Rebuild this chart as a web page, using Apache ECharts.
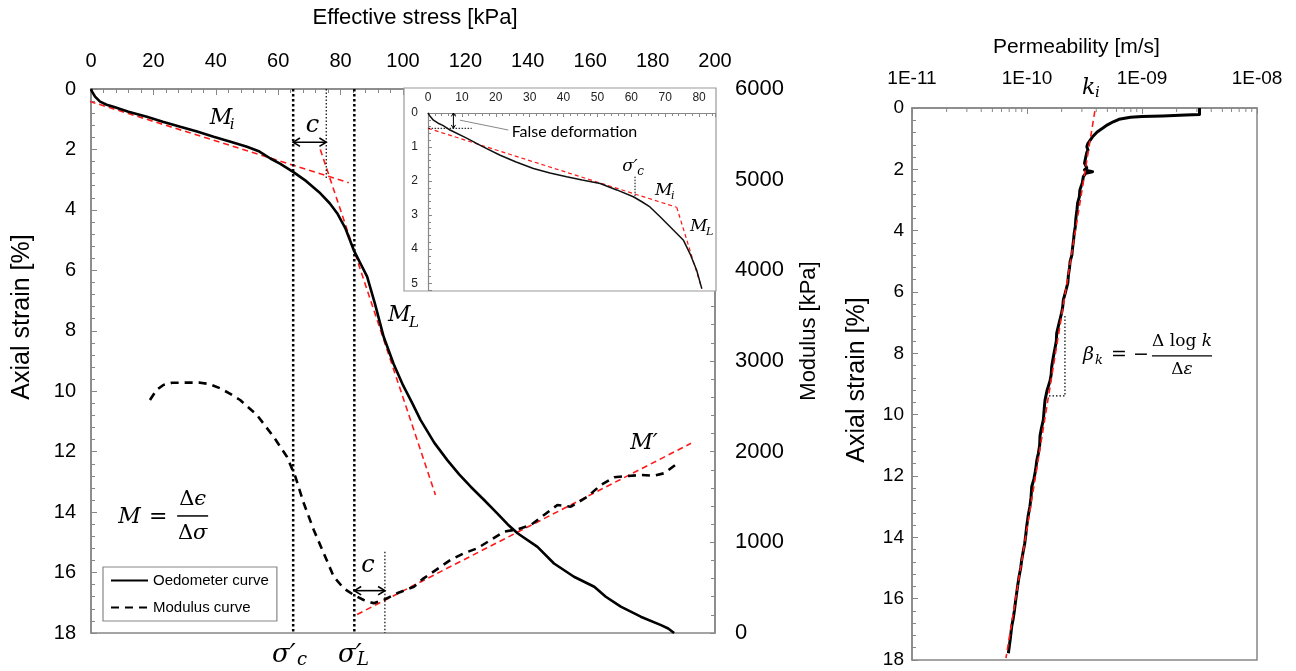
<!DOCTYPE html>
<html><head><meta charset="utf-8">
<script src="https://cdn.jsdelivr.net/npm/echarts@6/dist/echarts.min.js"></script>
<style>html,body{margin:0;padding:0;background:#fff;}#c{width:1296px;height:671px;}</style>
</head><body><div id="c"></div>
<script>
// ---------------- DATA ----------------
// Main oedometer curve: [effective stress kPa, axial strain %]
const oedometerCurve = [[0,0],[0.3,0.08],[1.3,0.25],[2.9,0.42],[5,0.52],[7.2,0.59],[12,0.75],[17.9,0.92],[23,1.08],[28.6,1.25],[34,1.41],[39.3,1.58],[45,1.75],[50,1.91],[54,2.07],[57.5,2.3],[60.7,2.48],[64.9,2.75],[69,3.05],[73.5,3.45],[76.5,3.78],[78.9,4.11],[81.5,4.6],[84.2,5.33],[86.5,5.8],[88.5,6.21],[91,7.1],[93.8,8.2],[97,9.1],[100,9.8],[103,10.4],[105.6,10.95],[110,11.7],[114.2,12.28],[118,12.75],[121.7,13.16],[126,13.6],[130.2,14.04],[133.5,14.4],[136.7,14.7],[143.1,15.15],[148.4,15.7],[154.8,16.14],[161.3,16.47],[165,16.8],[169.8,17.13],[176.2,17.46],[182.7,17.74],[185,17.85],[186.9,18.0]];
// Modulus curve: [effective stress kPa, modulus kPa]
const modulusCurve = [[18.9,2570],[21,2680],[23.2,2736],[26,2760],[28.6,2761],[35,2761],[38,2745],[41.4,2699],[44.5,2640],[47.8,2570],[53.2,2404],[58.5,2165],[62.8,1945],[65.5,1724],[68.2,1431],[71.4,1136],[74.6,879],[77.8,621],[81,493],[84.2,419],[87.4,364],[90.6,328],[93.8,364],[98.1,438],[103.5,511],[106.5,600],[109.9,680],[115.2,805],[119.5,879],[123.8,934],[128.1,1026],[132.4,1117],[136.7,1144],[141,1191],[145.2,1302],[149.5,1412],[153.8,1393],[159.1,1503],[163.4,1632],[167.7,1717],[172,1732],[176.2,1743],[180.5,1735],[183.7,1762],[188,1872]];
// Tangent lines
const tangentMi = [[-3.5,0.31],[82.6,3.1]];
const tangentML = [[73.5,2.0],[110.4,13.43]];
const tangentMprime = [[85.3,205],[192.3,2092]];
// Characteristic stresses (kPa)
const sigmaC = 64.8, sigmaL = 84.4, sigmaCShift = 75.4, sigmaLShift = 94.2;
const shiftTopStrain = 3.0, shiftBottomModulus = 897;
const arrowTop = [[sigmaC,1.76,sigmaCShift,1.76]];
const arrowBottom = [[sigmaL,467,sigmaLShift,467]];

// Inset: [stress kPa, strain %]
const insetCurve = [[0,0],[0.5,0.08],[1.6,0.21],[3,0.3],[4.5,0.37],[6.5,0.5],[11.4,0.74],[16,0.98],[21.3,1.24],[26,1.44],[31.1,1.63],[36,1.76],[40.9,1.87],[45.5,1.97],[50.8,2.07],[55.7,2.26],[60.6,2.46],[63,2.6],[65.5,2.76],[68.5,3.05],[72.4,3.44],[75.4,3.74],[77.3,4.13],[79.3,4.62],[80.8,5.16]];
const insetMi = [[0,0.45],[73.4,2.77]];
const insetML = [[73.4,2.77],[80.8,5.16]];
const insetFalseLevel = [[-1.6,0.45],[12.9,0.45]];
const insetSigmaC = [[61.1,1.87],[61.1,2.46]];
const insetLeader = [[9.4,0.21],[23.7,0.5]];
const insetArrow = [[7.5,0.0,7.5,0.45]];

// Permeability: [log10 k (m/s), axial strain %]
const permCurve = [[-8.50,0.00],[-8.50,0.21],[-8.62,0.23],[-8.82,0.26],[-9.00,0.28],[-9.10,0.30],[-9.20,0.37],[-9.25,0.45],[-9.30,0.55],[-9.34,0.65],[-9.39,0.78],[-9.43,0.94],[-9.47,1.15],[-9.48,1.26],[-9.47,1.37],[-9.48,1.45],[-9.49,1.62],[-9.50,1.80],[-9.48,1.95],[-9.50,2.02],[-9.43,2.08],[-9.49,2.13],[-9.51,2.24],[-9.52,2.45],[-9.54,2.67],[-9.545,2.9],[-9.56,3.1],[-9.565,3.3],[-9.575,3.6],[-9.58,3.87],[-9.59,4.1],[-9.595,4.3],[-9.605,4.6],[-9.61,4.8],[-9.625,5.0],[-9.63,5.2],[-9.64,5.45],[-9.645,5.7],[-9.665,6.0],[-9.684,6.26],[-9.69,6.5],[-9.70,6.7],[-9.72,7.0],[-9.742,7.35],[-9.745,7.6],[-9.755,7.8],[-9.77,8.1],[-9.785,8.43],[-9.79,8.7],[-9.80,8.9],[-9.825,9.2],[-9.843,9.52],[-9.85,9.8],[-9.858,10.17],[-9.875,10.45],[-9.887,10.7],[-9.89,11.0],[-9.901,11.26],[-9.915,11.5],[-9.925,11.8],[-9.94,12.1],[-9.959,12.35],[-9.965,12.7],[-9.975,13.0],[-9.99,13.3],[-10.003,13.65],[-10.01,13.9],[-10.02,14.2],[-10.035,14.5],[-10.046,14.74],[-10.055,15.0],[-10.07,15.3],[-10.08,15.55],[-10.09,15.82],[-10.10,16.1],[-10.11,16.4],[-10.12,16.65],[-10.133,16.91],[-10.145,17.3],[-10.162,17.78]];
const permTangent = [[-9.41,0.1],[-10.183,17.94]];
const permBracket = [[-9.67,6.78],[-9.67,9.39],[-9.83,9.39]];
const permTickLabels = {'-11':'1E-11','-10':'1E-10','-9':'1E-09','-8':'1E-08'};
const permDecades = [-11,-10,-9];

const legendNames = ['Oedometer curve','Modulus curve'];

// ---------------- STYLE ----------------
const GRAY = '#878787';
const SANS = '"Liberation Sans", Arial, sans-serif';
const SERIF = '"DejaVu Serif", serif';
const RED = '#ff1a1a';
const toK = p => [Math.pow(10,p[0]), p[1]];

const permMinorTicks = [];
permDecades.forEach(d => { for (let m = 2; m <= 9; m++) permMinorTicks.push([m*Math.pow(10,d)]); });

function arrowRenderer(h, lw){
  return function(params, api){
    const a = api.coord([api.value(0), api.value(1)]);
    const b = api.coord([api.value(2), api.value(3)]);
    const ang = Math.atan2(b[1]-a[1], b[0]-a[0]);
    const w = 0.55;
    const head = (p, dir) => [[p[0]-h*Math.cos(dir-w), p[1]-h*Math.sin(dir-w)], [p[0],p[1]], [p[0]-h*Math.cos(dir+w), p[1]-h*Math.sin(dir+w)]];
    const st = {stroke:'#000', lineWidth:lw, fill:null};
    return {type:'group', children:[
      {type:'line', shape:{x1:a[0],y1:a[1],x2:b[0],y2:b[1]}, style:st},
      {type:'polyline', shape:{points:head(b, ang)}, style:st},
      {type:'polyline', shape:{points:head(a, ang+Math.PI)}, style:st}
    ]};
  };
}

function baseAxis(extra){
  return Object.assign({
    axisLine:{show:true, lineStyle:{color:GRAY, width:1.5}},
    axisTick:{show:true, inside:true, length:6, lineStyle:{color:GRAY, width:1}},
    minorTick:{show:true, splitNumber:5, length:4, lineStyle:{color:GRAY, width:1}},
    splitLine:{show:false}, minorSplitLine:{show:false},
    axisLabel:{color:'#000', fontFamily:SANS, fontSize:20},
    nameTextStyle:{color:'#000', fontFamily:SANS, fontSize:21},
    nameLocation:'middle'
  }, extra);
}

function lineSeries(name, data, xi, yi, ls, extra){
  return Object.assign({name, type:'line', data, xAxisIndex:xi, yAxisIndex:yi, symbol:'none', showSymbol:false,
    lineStyle:ls, silent:true, animation:false}, extra||{});
}

const option = {
  animation:false,
  backgroundColor:'#fff',
  grid:[
    {left:91, top:89, width:624, height:544, show:true, borderColor:GRAY, borderWidth:1.5, backgroundColor:'transparent', outerBoundsMode:'none'},
    {left:428, top:113, width:287, height:177, show:false, outerBoundsMode:'none'},
    {left:912, top:108, width:345, height:552, show:true, borderColor:GRAY, borderWidth:1.5, backgroundColor:'transparent', outerBoundsMode:'none'}
  ],
  legend:{
    data:legendNames, orient:'vertical', left:103, top:567, padding:[6,8,6,7],
    itemWidth:37, itemHeight:16, itemGap:12, borderColor:GRAY, borderWidth:1.2, backgroundColor:'#fff',
    itemStyle:{opacity:0},
    textStyle:{fontFamily:SANS, fontSize:15, color:'#000'}, selectedMode:false
  },
  xAxis:[
    baseAxis({gridIndex:0, type:'value', position:'top', min:0, max:200, interval:20,
      axisLabel:{color:'#000', fontFamily:SANS, fontSize:20, margin:18},
      name:'Effective stress [kPa]', nameGap:60,
      nameTextStyle:{color:'#000', fontFamily:SANS, fontSize:22, padding:[0,0,0,24]}}),
    baseAxis({gridIndex:1, type:'value', position:'top', min:0, max:84.7, interval:10, zlevel:1, z:5,
      axisTick:{show:true, inside:true, length:4, lineStyle:{color:GRAY}},
      minorTick:{show:true, splitNumber:5, length:3, lineStyle:{color:GRAY}},
      axisLine:{show:true, lineStyle:{color:GRAY, width:1.2}},
      axisLabel:{color:'#222', fontFamily:SANS, fontSize:12, margin:9, showMaxLabel:false}}),
    baseAxis({gridIndex:2, type:'log', logBase:10, position:'top', min:1e-11, max:1e-8,
      minorTick:{show:false},
      axisLabel:{color:'#000', fontFamily:SANS, fontSize:19, margin:20,
        formatter:v => permTickLabels[String(Math.round(Math.log10(v)))] || ''},
      name:'Permeability [m/s]', nameGap:50,
      nameTextStyle:{color:'#000', fontFamily:SANS, fontSize:21, padding:[0,16,0,0]}})
  ],
  yAxis:[
    baseAxis({gridIndex:0, type:'value', inverse:true, min:0, max:18, interval:2,
      axisLabel:{color:'#000', fontFamily:SANS, fontSize:20, margin:15},
      name:'Axial strain [%]', nameGap:56,
      nameTextStyle:{color:'#000', fontFamily:SANS, fontSize:25, padding:[0,0,0,88]}}),
    baseAxis({gridIndex:0, type:'value', position:'right', min:0, max:6000, interval:1000,
      axisTick:{show:true, inside:true, length:5, lineStyle:{color:GRAY}},
      axisLabel:{color:'#000', fontFamily:SANS, fontSize:22, margin:20, formatter:v => String(v)},
      name:'Modulus [kPa]', nameGap:83,
      nameTextStyle:{color:'#000', fontFamily:SANS, fontSize:22, padding:[0,0,0,60]}}),
    baseAxis({gridIndex:1, type:'value', inverse:true, min:0, max:5.2, interval:1, zlevel:1, z:5,
      axisTick:{show:true, inside:true, length:4, lineStyle:{color:GRAY}},
      minorTick:{show:true, splitNumber:5, length:3, lineStyle:{color:GRAY}},
      axisLine:{show:true, lineStyle:{color:GRAY, width:1.2}},
      axisLabel:{color:'#222', fontFamily:SANS, fontSize:12, margin:10, showMaxLabel:false}}),
    baseAxis({gridIndex:2, type:'value', inverse:true, min:0, max:18, interval:2,
      axisLabel:{color:'#000', fontFamily:SANS, fontSize:19, margin:8},
      name:'Axial strain [%]', nameGap:42,
      nameTextStyle:{color:'#000', fontFamily:SANS, fontSize:25, padding:[0,0,0,8]}})
  ],
  series:[
    // main chart
    lineSeries('tMi', tangentMi, 0, 0, {color:RED, width:1.6, type:[6,4]}, {clip:false, z:3}),
    lineSeries('tML', tangentML, 0, 0, {color:RED, width:1.6, type:[6,4]}, {z:3}),
    lineSeries('tMp', tangentMprime, 0, 1, {color:RED, width:1.6, type:[6,4]}, {z:3}),
    lineSeries('sc', [[sigmaC,0],[sigmaC,18]], 0, 0, {color:'#000', width:2.5, type:[2.5,2.5]}),
    lineSeries('sl', [[sigmaL,0],[sigmaL,18]], 0, 0, {color:'#000', width:2.5, type:[2.5,2.5]}),
    lineSeries('scs', [[sigmaCShift,0],[sigmaCShift,shiftTopStrain]], 0, 0, {color:'#000', width:1.2, type:[1.5,2]}),
    lineSeries('sls', [[sigmaLShift,shiftBottomModulus],[sigmaLShift,0]], 0, 1, {color:'#000', width:1.2, type:[1.5,2]}),
    lineSeries('Oedometer curve', oedometerCurve, 0, 0, {color:'#000', width:2.6, type:'solid'}, {z:4, color:'#000'}),
    lineSeries('Modulus curve', modulusCurve, 0, 1, {color:'#000', width:2.6, type:[8,6]}, {z:4, color:'#000'}),
    {type:'custom', xAxisIndex:0, yAxisIndex:0, data:arrowTop, renderItem:arrowRenderer(8,1.6), encode:{x:[0,2], y:[1,3]}, silent:true, z:6},
    {type:'custom', xAxisIndex:0, yAxisIndex:1, data:arrowBottom, renderItem:arrowRenderer(8,1.6), encode:{x:[0,2], y:[1,3]}, silent:true, z:6},
    // inset
    lineSeries('iMi', insetMi, 1, 2, {color:RED, width:1.2, type:[4,3]}, {zlevel:1, z:7}),
    lineSeries('iML', insetML, 1, 2, {color:RED, width:1.2, type:[4,3]}, {zlevel:1, z:7}),
    lineSeries('iFalse', insetFalseLevel, 1, 2, {color:'#000', width:1, type:[1.5,1.5]}, {zlevel:1, z:7, clip:false}),
    lineSeries('iSc', insetSigmaC, 1, 2, {color:'#000', width:1, type:[1.5,1.5]}, {zlevel:1, z:7}),
    lineSeries('iLeader', insetLeader, 1, 2, {color:'#888', width:1}, {zlevel:1, z:7}),
    lineSeries('iCurve', insetCurve, 1, 2, {color:'#111', width:1.5}, {zlevel:1, z:8}),
    {type:'custom', xAxisIndex:1, yAxisIndex:2, data:insetArrow, renderItem:arrowRenderer(4,1), encode:{x:[0,2], y:[1,3]}, silent:true, zlevel:1, z:8},
    // permeability
    lineSeries('perm', permCurve.map(toK), 2, 3, {color:'#000', width:3, join:'round'}, {z:4}),
    lineSeries('permT', permTangent.map(toK), 2, 3, {color:RED, width:1.6, type:[6,4]}, {z:5}),
    lineSeries('permB', permBracket.map(toK), 2, 3, {color:'#000', width:1.2, type:[1.5,2]}, {z:5}),
    {type:'custom', xAxisIndex:2, yAxisIndex:3, data:permMinorTicks, encode:{x:0}, silent:true, z:6,
      renderItem:function(params, api){
        const p = api.coord([api.value(0), 0]);
        return {type:'line', shape:{x1:p[0], y1:p[1], x2:p[0], y2:p[1]+4}, style:{stroke:GRAY, lineWidth:1}};
      }}
  ]
};

const chart = echarts.init(document.getElementById('c'));
chart.setOption(option);

// ---------------- ANNOTATIONS ----------------
const G0 = {xAxisIndex:0, yAxisIndex:0}, G0M = {xAxisIndex:0, yAxisIndex:1};
const G1 = {xAxisIndex:1, yAxisIndex:2}, G2 = {xAxisIndex:2, yAxisIndex:3};
const px = (g, x, y) => chart.convertToPixel(g, [x, y]);
function T(p, dx, dy, text, size, o){
  o = o || {};
  const st = {text, fill:o.fill||'#000', fontSize:size, fontFamily:o.family||SERIF,
    fontStyle:o.italic===false?'normal':'italic', align:o.align||'left', verticalAlign:'middle'};
  if (o.rich) st.rich = o.rich;
  return {type:'text', x:p[0]+dx, y:p[1]+dy, zlevel:o.zlevel||0, z:60, silent:true, style:st};
}
function L(p, x1, x2, dy, o){
  o = o || {};
  return {type:'line', shape:{x1:p[0]+x1, y1:p[1]+dy, x2:p[0]+x2, y2:p[1]+dy}, zlevel:o.zlevel||0, z:60, silent:true,
    style:{stroke:'#000', lineWidth:o.w||1.5}};
}
const richMath = s => ({u:{fontStyle:'normal', fontSize:s, fontFamily:SERIF}, i:{fontStyle:'italic', fontSize:s, fontFamily:SERIF}});

const g = [];
// inset backdrop
const inTL = px(G1, 0, 0), inBR = px(G1, 84.7, 5.2);
g.push({type:'rect', shape:{x:inTL[0]-24, y:inTL[1]-25, width:inBR[0]-inTL[0]+25, height:inBR[1]-inTL[1]+26},
  style:{fill:'#fff', stroke:'#999', lineWidth:1.2}, zlevel:1, z:1, silent:true});

let p;
p = px(G0, 38.1, 0.96); g.push(T(p,0,0,'M',22), T(p,20,7,'i',15));
p = px(G0, 95.2, 7.48); g.push(T(p,0,0,'M',22), T(p,21,8,'L',15));
p = px(G0M, 172.8, 2096); g.push(T(p,0,0,'M′',22));
p = px(G0, 71.0, 1.22); g.push(T(p,0,0,'c',24,{align:'center'}));
p = px(G0M, 88.8, 739); g.push(T(p,0,0,'c',24,{align:'center'}));
p = px(G0, 58.0, 18.73); g.push(T(p,0,0,'σ′',26), T(p,25,5,'c',18));
p = px(G0, 79.2, 18.73); g.push(T(p,0,0,'σ′',26), T(p,19,5,'L',18));
p = px(G0, 8.7, 14.16);
g.push(T(p,0,0,'M',22), T(p,40,0,'=',22,{italic:false, align:'center'}),
  T(p,74.5,-17.5,'{u|Δ}{i|ϵ}',21,{align:'center', rich:richMath(21)}), L(p,59,90,-1),
  T(p,74.5,16.5,'{u|Δ}{i|σ}',21,{align:'center', rich:richMath(21)}));
// permeability
p = px(G2, Math.pow(10,-9.522), -0.65); g.push(T(p,0,0,'k',22), T(p,13,5,'i',15));
p = px(G2, Math.pow(10,-9.513), 8.05);
g.push(T(p,0,0,'β',19), T(p,12,6,'k',13), T(p,28,0,'= −',19,{italic:false}),
  T(p,99,-13,'{u|Δ log }{i|k}',17,{align:'center', rich:richMath(17)}), L(p,69,129,1,{w:1.2}),
  T(p,99,15,'{u|Δ}{i|ε}',17,{align:'center', rich:richMath(17)}));
// inset
p = px(G1, 24.7, 0.55); g.push(T(p,0,0,'False deformation',16,{italic:false, family:'Lato, "Open Sans", sans-serif', zlevel:1}));
p = px(G1, 57.9, 1.62); g.push(T(p,-2,-2,'σ′',17,{zlevel:1}), T(p,13,4,'c',12,{zlevel:1}));
p = px(G1, 67.0, 2.29); g.push(T(p,0,0,'M',17,{zlevel:1}), T(p,16,5,'i',11,{zlevel:1}));
p = px(G1, 77.3, 3.35); g.push(T(p,0,0,'M',17,{zlevel:1}), T(p,16,5,'L',11,{zlevel:1}));

chart.setOption({graphic:{elements:g}});
</script>
</body></html>
